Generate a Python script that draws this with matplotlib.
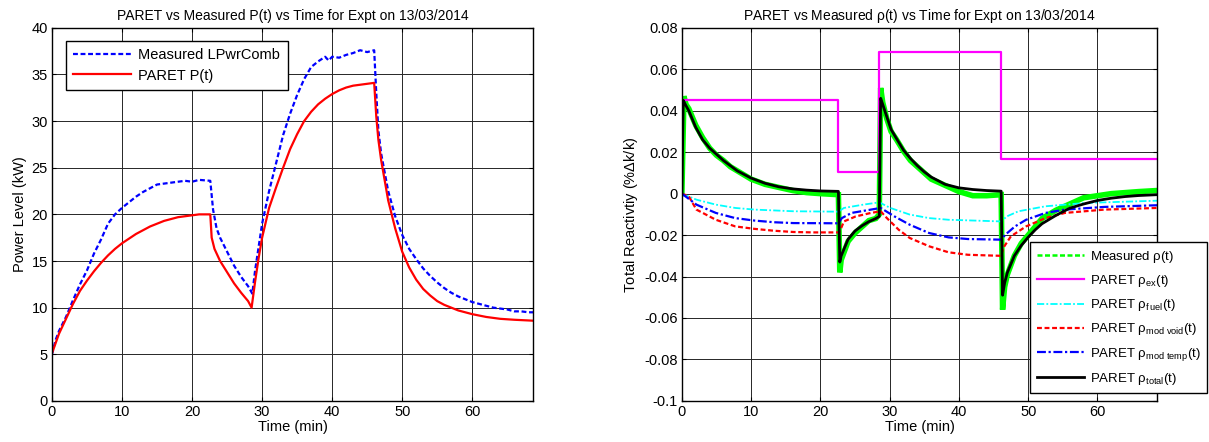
import matplotlib
matplotlib.use("Agg")
import matplotlib.pyplot as plt
import numpy as np

plt.rcParams['font.family'] = ['Liberation Sans', 'DejaVu Sans']
plt.rcParams['mathtext.fontset'] = 'custom'
plt.rcParams['mathtext.rm'] = 'Liberation Sans'
plt.rcParams['mathtext.it'] = 'Liberation Sans'

# ---------------- Left panel data ----------------
t_meas = [0, 0.5, 1, 2, 3, 4, 5, 6, 7, 8, 9, 10, 11, 12, 13, 14, 15, 16, 17, 18, 19, 20, 21, 22.6,
          23.0, 23.5, 24, 25, 26, 27, 28, 28.6, 29.0, 29.5, 30, 31, 32, 33, 34, 35, 36, 37, 38, 39, 39.5,
          40, 41, 42, 43, 44, 45, 46, 46.3, 46.6, 47, 48, 49, 50, 51, 52, 53, 54, 55, 56, 57, 58, 59,
          60, 61, 62, 63, 64, 65, 66, 67, 68, 68.7]
p_meas = [5.0, 6.5, 7.5, 9.0, 10.8, 12.5, 14.0, 15.8, 17.3, 19.0, 20.0, 20.7, 21.3, 21.9, 22.4, 22.8,
          23.2, 23.3, 23.4, 23.5, 23.6, 23.5, 23.7, 23.6,
          20.5, 18.5, 17.5, 16.0, 14.5, 13.3, 12.3, 11.5, 14.0, 16.5, 19.0, 22.5, 25.5, 28.5, 30.8, 32.8,
          34.5, 35.8, 36.4, 36.9, 36.5, 36.9, 36.8, 37.1, 37.3, 37.6, 37.4, 37.6, 33.0, 29.0, 26.5, 22.5,
          19.8, 17.8, 16.3, 15.2, 14.2, 13.4, 12.7, 12.1, 11.6, 11.2, 10.9, 10.6, 10.4, 10.2, 10.0, 9.9,
          9.8, 9.6, 9.6, 9.5, 9.5]

t_paret = [0, 1, 2, 3, 4, 5, 6, 7, 8, 9, 10, 11, 12, 13, 14, 15, 16, 17, 18, 19, 20, 21, 22.6,
           22.8, 23.2, 24, 25, 26, 27, 28, 28.5, 29, 29.5, 30, 31, 32, 33, 34, 35, 36, 37, 38, 39, 40,
           41, 42, 43, 44, 45, 46, 46.3, 46.6, 47, 48, 49, 50, 51, 52, 53, 54, 55, 56, 57, 58, 60, 62,
           64, 66, 68.7]
p_paret = [5.1, 7.2, 8.8, 10.4, 11.8, 12.9, 13.9, 14.8, 15.6, 16.3, 16.9, 17.4, 17.9, 18.3, 18.7,
           19.0, 19.3, 19.5, 19.7, 19.8, 19.9, 20.0, 20.0,
           17.5, 16.3, 15.0, 13.8, 12.6, 11.6, 10.7, 10.0, 12.8, 15.3, 17.5, 20.7, 22.9, 25.0, 27.0,
           28.6, 30.0, 31.0, 31.8, 32.4, 32.9, 33.3, 33.6, 33.8, 33.9, 34.0, 34.1, 30.5, 28.0, 25.8,
           21.5, 18.5, 16.0, 14.3, 13.0, 12.0, 11.3, 10.7, 10.3, 10.0, 9.7, 9.3, 9.0, 8.8, 8.7, 8.6]

# ---------------- Right panel data ----------------
t_ex = [0, 22.6, 22.6, 28.5, 28.5, 46.1, 46.1, 68.6]
rho_ex = [0.045, 0.045, 0.0105, 0.0105, 0.0685, 0.0685, 0.0165, 0.0165]

t_tot = [0, 0.2, 0.5, 1, 1.5, 2, 3, 4, 5, 6, 7, 8, 10, 12, 14, 16, 18, 20, 22.6, 22.8, 23, 24, 25, 26,
         27, 28, 28.5, 28.7, 29, 29.6, 30.2, 31, 32, 33, 34, 35, 36, 38, 40, 42, 44, 46.1, 46.3, 46.6,
         47, 48, 49, 50, 51, 52, 54, 56, 58, 60, 62, 64, 66, 68.6]
rho_tot = [0, 0.045, 0.043, 0.040, 0.036, 0.032, 0.026, 0.022, 0.019, 0.016, 0.0135, 0.011, 0.0075,
           0.005, 0.0033, 0.0023, 0.0017, 0.0013, 0.0011, -0.033, -0.030, -0.022, -0.018, -0.0155,
           -0.0135, -0.012, -0.011, 0.046, 0.043, 0.037, 0.031, 0.0265, 0.021, 0.017, 0.0135, 0.0105,
           0.008, 0.0045, 0.0028, 0.002, 0.0015, 0.0012, -0.049, -0.043, -0.038, -0.030, -0.025,
           -0.021, -0.0175, -0.0145, -0.0105, -0.007, -0.005, -0.0033, -0.0022, -0.0014, -0.0009,
           -0.0005]

t_mrho = [0, 0.3, 0.6, 1, 1.5, 2, 3, 4, 5, 6, 7, 8, 10, 12, 14, 16, 18, 20, 22.6, 22.8, 23, 24, 25,
          26, 27, 28, 28.5, 28.7, 29, 29.6, 30.2, 31, 32, 33, 34, 35, 36, 38, 40, 42, 44, 46.1, 46.3,
          46.6, 47, 48, 49, 50, 51, 52, 54, 56, 58, 60, 62, 64, 66, 68.6]
rho_meas = [0, 0.047, 0.043, 0.041, 0.037, 0.033, 0.027, 0.022, 0.0185, 0.016, 0.013, 0.011, 0.007,
            0.0045, 0.003, 0.0015, 0.0005, 0.0, -0.0005, -0.038, -0.032, -0.023, -0.019, -0.016,
            -0.013, -0.012, -0.010, 0.051, 0.044, 0.036, 0.030, 0.026, 0.0205, 0.016, 0.013, 0.010,
            0.007, 0.004, 0.001, -0.001, -0.001, -0.0005, -0.056, -0.045, -0.039, -0.030, -0.024,
            -0.020, -0.016, -0.012, -0.008, -0.005, -0.002, -0.001, 0.0, 0.0005, 0.001, 0.0015]

t_void = [0, 1, 2.1, 4.9, 7.7, 10.5, 13.3, 16.1, 18.9, 22.6, 22.9, 23.4, 25.1, 27.3, 28.7, 29.6,
          31.3, 32.9, 35.7, 38.5, 41.3, 44.1, 46.1, 46.4, 47.5, 49.7, 52.5, 55.3, 61, 68.6]
rho_void = [0, -0.0013, -0.0077, -0.0126, -0.0158, -0.017, -0.0179, -0.0185, -0.0187, -0.0187,
            -0.0174, -0.0134, -0.011, -0.0093, -0.0085, -0.0118, -0.0174, -0.0214, -0.0254, -0.0283,
            -0.0295, -0.0298, -0.030, -0.0262, -0.0206, -0.0158, -0.0118, -0.0093, -0.0077, -0.0069]

t_temp = [0, 2.1, 4.9, 7.7, 10.5, 13.3, 16.1, 22.6, 23.1, 24.5, 27.3, 28.7, 30.7, 32.9, 35.7, 38.5,
          41.3, 46.1, 46.7, 48.1, 49.7, 52.5, 55.3, 61, 68.6]
rho_temp = [0, -0.0053, -0.0093, -0.0118, -0.013, -0.0138, -0.0142, -0.0143, -0.0118, -0.0093,
            -0.0077, -0.0069, -0.011, -0.015, -0.019, -0.0211, -0.0219, -0.0222, -0.0198, -0.0158,
            -0.0126, -0.0093, -0.0077, -0.0064, -0.0056]

t_fuel = [0, 2.1, 4.9, 7.7, 10.5, 16.1, 22.6, 23.4, 26.2, 28.5, 30.1, 32.9, 35.7, 38.5, 46.1, 46.9,
          48.6, 52.5, 58.2, 68.6]
rho_fuel = [0, -0.0029, -0.0053, -0.0069, -0.0077, -0.0085, -0.0087, -0.0069, -0.0053, -0.0042,
            -0.0069, -0.0101, -0.0118, -0.0126, -0.0134, -0.011, -0.0085, -0.0061, -0.0045, -0.0034]

left_xticks = [0, 10, 20, 30, 40, 50, 60]
left_yticks = [0, 5, 10, 15, 20, 25, 30, 35, 40]
right_yticks = [-0.1, -0.08, -0.06, -0.04, -0.02, 0, 0.02, 0.04, 0.06, 0.08]
right_yticklabels = ['-0.1', '-0.08', '-0.06', '-0.04', '-0.02', '0', '0.02', '0.04', '0.06', '0.08']

fig = plt.figure(figsize=(12.09, 4.42), dpi=100)
ax1 = fig.add_axes([0.043, 0.093, 0.398, 0.844])
ax2 = fig.add_axes([0.564, 0.093, 0.393, 0.844])

FS = 10

def style(ax):
    ax.grid(True, color='0.15', linewidth=0.7, linestyle='-')
    ax.set_axisbelow(True)
    ax.tick_params(direction='in', top=True, right=True, labelsize=FS + 0.5, length=3, pad=3)
    for s in ax.spines.values():
        s.set_linewidth(1.0)

ax1.plot(t_meas, p_meas, color='#0000ff', linestyle='--', dashes=(2.2, 1.2), linewidth=1.6,
         label='Measured LPwrComb')
ax1.plot(t_paret, p_paret, color='#ff0000', linewidth=1.6, label='PARET P(t)')
ax1.set_xlim(0, 68.7)
ax1.set_ylim(0, 40)
ax1.set_xticks(left_xticks)
ax1.set_yticks(left_yticks)
style(ax1)
ax1.set_xlabel('Time (min)', fontsize=FS + 0.5, labelpad=1)
ax1.set_ylabel('Power Level (kW)', fontsize=FS + 0.5, labelpad=3)
ax1.set_title('PARET vs Measured P(t) vs Time for Expt on 13/03/2014', fontsize=FS, pad=6)
leg1 = ax1.legend(loc='upper left', bbox_to_anchor=(0.013, 0.985), fontsize=FS + 0.5, fancybox=False,
                  edgecolor='k', framealpha=1, handlelength=4.0, handletextpad=0.5,
                  borderpad=0.5, labelspacing=0.45)
leg1.get_frame().set_linewidth(1.0)

ax2.plot(t_mrho, rho_meas, color='#00ff00', linewidth=4.0, solid_joinstyle='miter')
ax2.plot([], [], color='#00ff00', linestyle='--', dashes=(2, 1), linewidth=1.8,
         label=r'Measured $\mathrm{\rho}$(t)')
ax2.plot(t_ex, rho_ex, color='#ff00ff', linewidth=1.6, label=r'PARET $\mathrm{\rho_{ex}}$(t)')
ax2.plot(t_fuel, rho_fuel, color='#00ffff', linestyle='-.', dashes=(4, 1.2, 1, 1.2), linewidth=1.3,
         label=r'PARET $\mathrm{\rho_{f\,uel}}$(t)')
ax2.plot(t_void, rho_void, color='#ff0000', linestyle='--', dashes=(2.2, 1.2), linewidth=1.6,
         label=r'PARET $\mathrm{\rho_{mod\ void}}$(t)')
ax2.plot(t_temp, rho_temp, color='#0000ff', linestyle='-.', dashes=(4, 1.2, 1, 1.2), linewidth=1.6,
         label=r'PARET $\mathrm{\rho_{mod\ temp}}$(t)')
ax2.plot(t_tot, rho_tot, color='k', linewidth=2.0, label=r'PARET $\mathrm{\rho_{total}}$(t)')
ax2.set_xlim(0, 68.6)
ax2.set_ylim(-0.1, 0.08)
ax2.set_xticks(left_xticks)
ax2.set_yticks(right_yticks)
ax2.set_yticklabels(right_yticklabels)
style(ax2)
ax2.set_xlabel('Time (min)', fontsize=FS + 0.5, labelpad=1)
ax2.set_ylabel(r'Total Reactivtiy (%$\mathrm{\Delta}$k/k)', fontsize=FS + 0.5, labelpad=3)
ax2.set_title(r'PARET vs Measured $\mathrm{\rho}$(t) vs Time for Expt on 13/03/2014', fontsize=FS, pad=6)
leg2 = fig.legend(handles=ax2.get_lines()[1:], loc='upper left', bbox_to_anchor=(0.852, 0.452),
                  fontsize=9.5, fancybox=False, edgecolor='k', framealpha=1, handlelength=3.6,
                  handletextpad=0.45, borderpad=0.5, borderaxespad=0.0, labelspacing=0.62)
leg2.get_frame().set_linewidth(1.0)

fig.savefig('out.png', dpi=100)
